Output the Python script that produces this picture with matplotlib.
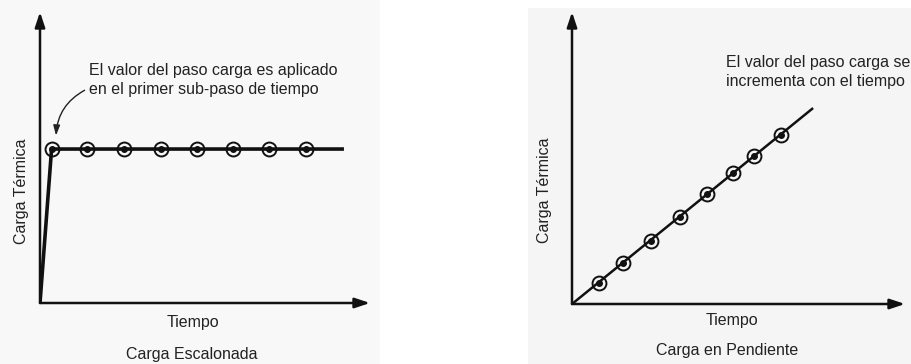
import matplotlib
matplotlib.use("Agg")
import matplotlib.pyplot as plt
from matplotlib.patches import Rectangle

plt.rcParams['font.family'] = ['Liberation Sans', 'DejaVu Sans']

# ---- data ----
# Left: step load (time in sub-steps, load normalised)
step_times = [0.32, 1.30, 2.32, 3.34, 4.33, 5.33, 6.32, 7.34]
step_loads = [1.0, 1.0, 1.0, 1.0, 1.0, 1.0, 1.0, 1.0]
step_line_t = [0.0, 0.32, 8.35]
step_line_y = [0.0, 1.0, 1.0]

# Right: ramp load
ramp_times = [0.75, 1.42, 2.19, 3.0, 3.75, 4.47, 5.06, 5.81]
ramp_loads = [0.58, 1.14, 1.75, 2.42, 3.06, 3.64, 4.11, 4.69]
ramp_line_t = [0.0, 6.67]
ramp_line_y = [0.0, 5.42]

ylabel = "Carga Térmica"
xlabel = "Tiempo"
titles = ["Carga Escalonada", "Carga en Pendiente"]
notes = ["El valor del paso carga es aplicado\nen el primer sub-paso de tiempo",
         "El valor del paso carga se\nincrementa con el tiempo"]

W, H = 912, 364
fig = plt.figure(figsize=(W / 100, H / 100), dpi=100)
fig.patch.set_facecolor('white')

# light grey panel backgrounds
fig.patches.append(Rectangle((0, 0), 380 / W, 1, transform=fig.transFigure,
                             facecolor='#f8f8f8', edgecolor='none', zorder=-10))
fig.patches.append(Rectangle((528 / W, 0), 1 - 528 / W, 1 - 8 / H, transform=fig.transFigure,
                             facecolor='#f5f5f5', edgecolor='none', zorder=-10))


def px_axes(x0, y_bottom, x1, y_top):
    return fig.add_axes([x0 / W, 1 - y_bottom / H, (x1 - x0) / W, (y_bottom - y_top) / H])


def draw_axes_arrows(ax, lw=1.8):
    for sp in ax.spines.values():
        sp.set_visible(False)
    ax.set_xticks([])
    ax.set_yticks([])
    ax.patch.set_alpha(0)
    kw = dict(arrowstyle='-|>,head_length=0.9,head_width=0.3', color='#111111', lw=lw,
              shrinkA=0, shrinkB=0)
    ax.annotate('', xy=(1, 0), xytext=(0, 0), xycoords='axes fraction',
                arrowprops=kw, annotation_clip=False)
    ax.annotate('', xy=(0, 1), xytext=(0, 0), xycoords='axes fraction',
                arrowprops=kw, annotation_clip=False)


mk = dict(marker='o', markersize=10, markerfacecolor='none', markeredgecolor='#111111',
          markeredgewidth=1.4, linestyle='none', zorder=4)
dot = dict(marker='o', markersize=4, color='#111111', linestyle='none', zorder=5)

# ---- left panel ----
axL = px_axes(40, 303, 370, 12)
axL.set_xlim(0, 9.12)
axL.set_ylim(0, 1.89)
draw_axes_arrows(axL)
axL.plot(step_line_t, step_line_y, color='#111111', lw=2.6, zorder=3, solid_joinstyle='miter')
axL.plot(step_times, step_loads, **mk)
axL.plot(step_times, step_loads, **dot)
axL.annotate('', xy=(step_times[0] + 0.12, step_loads[0] + 0.07),
             xytext=(1.3, 1.39),
             arrowprops=dict(arrowstyle='-|>,head_length=0.6,head_width=0.2',
                             color='#222222', lw=1.0,
                             connectionstyle='arc3,rad=0.3'))

fs = 11.5
fig.text(89 / W, 1 - 80 / H, notes[0], fontsize=fs, color='#222222',
         ha='left', va='center', linespacing=1.3)
fig.text(22 / W, 1 - 191 / H, ylabel, rotation=90, fontsize=fs, color='#222222',
         ha='center', va='center')
fig.text(193 / W, 1 - 323 / H, xlabel, fontsize=fs, color='#222222', ha='center', va='center')
fig.text(192 / W, 1 - 354 / H, titles[0], fontsize=fs, color='#222222', ha='center', va='center')

# ---- right panel ----
axR = px_axes(572, 304, 905, 12)
axR.set_xlim(0, 9.25)
axR.set_ylim(0, 8.11)
draw_axes_arrows(axR)
axR.plot(ramp_line_t, ramp_line_y, color='#111111', lw=1.8, zorder=3)
axR.plot(ramp_times, ramp_loads, **mk)
axR.plot(ramp_times, ramp_loads, **dot)

fig.text(726 / W, 1 - 72 / H, notes[1], fontsize=fs, color='#222222',
         ha='left', va='center', linespacing=1.3)
fig.text(545 / W, 1 - 190 / H, ylabel, rotation=90, fontsize=fs, color='#222222',
         ha='center', va='center')
fig.text(732 / W, 1 - 320 / H, xlabel, fontsize=fs, color='#222222', ha='center', va='center')
fig.text(727 / W, 1 - 350 / H, titles[1], fontsize=fs, color='#222222', ha='center', va='center')

fig.savefig('out.png', dpi=100)
